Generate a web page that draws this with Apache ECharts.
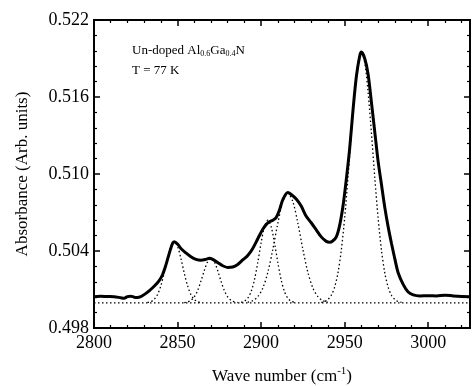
<!DOCTYPE html>
<html>
<head>
<meta charset="utf-8">
<script src="https://cdn.jsdelivr.net/npm/echarts@6/dist/echarts.min.js"></script>
<style>html,body{margin:0;padding:0;background:#fff}#c{width:472px;height:386px}</style>
</head>
<body>
<div id="c"></div>
<script>
// Measured spectrum (thick line)
const specX = [2800,2804,2808,2812,2816,2818,2820,2822,2824,2826,2828,2830,2833,2836,2839,2841,2843,2845,2847,2848,2850,2852,2855,2858,2861,2864,2867,2869,2871,2874,2877,2880,2883,2886,2889,2892,2895,2898,2901,2904,2907,2909,2911,2913,2916,2918,2921,2924,2927,2930,2933,2936,2939,2941,2943,2945,2947,2949,2951,2953,2955,2957,2959,2960,2962,2964,2966,2968,2970,2972,2974,2976,2978,2980,2982,2985,2988,2991,2995,3000,3005,3010,3015,3020,3025];
const specY = [0.50044,0.50047,0.50045,0.50044,0.50036,0.50032,0.50044,0.50048,0.50040,0.50038,0.50045,0.50060,0.50090,0.50125,0.50170,0.50215,0.50290,0.50380,0.50460,0.50473,0.50455,0.50420,0.50385,0.50355,0.50335,0.50328,0.50335,0.50343,0.50335,0.50310,0.50285,0.50272,0.50275,0.50295,0.50330,0.50365,0.50420,0.50495,0.50570,0.50620,0.50640,0.50660,0.50720,0.50800,0.50855,0.50840,0.50805,0.50750,0.50670,0.50620,0.50565,0.50510,0.50475,0.50468,0.50480,0.50510,0.50600,0.50750,0.50960,0.51200,0.51500,0.51760,0.51920,0.51950,0.51900,0.51780,0.51560,0.51330,0.51100,0.50920,0.50740,0.50590,0.50460,0.50340,0.50230,0.50140,0.50080,0.50058,0.50050,0.50052,0.50050,0.50056,0.50050,0.50046,0.50044];

// Fitted component bands (dotted lines)
const fit2848X = [2832,2834,2836,2838,2840,2842,2844,2846,2848,2850,2852,2854,2856,2858,2860,2862,2864];
const fit2848Y = [0.49999,0.50005,0.50023,0.50060,0.50129,0.50228,0.50342,0.50436,0.50473,0.50436,0.50342,0.50228,0.50129,0.50060,0.50023,0.50005,0.49999];
const fit2870X = [2854,2856,2858,2860,2862,2864,2866,2868,2870,2872,2874,2876,2878,2880,2882,2884,2886];
const fit2870Y = [0.49998,0.50003,0.50015,0.50043,0.50092,0.50165,0.50248,0.50316,0.50343,0.50316,0.50248,0.50165,0.50092,0.50043,0.50015,0.50003,0.49998];
const fit2904X = [2888,2890,2892,2894,2896,2898,2900,2902,2904,2906,2908,2910,2912,2914,2916,2918,2920];
const fit2904Y = [0.50000,0.50009,0.50032,0.50083,0.50175,0.50310,0.50464,0.50590,0.50640,0.50590,0.50464,0.50310,0.50175,0.50083,0.50032,0.50009,0.50000];
const fit2916X = [2892,2895,2898,2901,2904,2907,2910,2913,2916,2919,2922,2925,2928,2931,2934,2937,2940];
const fit2916Y = [0.50001,0.50013,0.50044,0.50111,0.50233,0.50412,0.50616,0.50784,0.50850,0.50784,0.50616,0.50412,0.50233,0.50111,0.50044,0.50013,0.50001];
const fit2960X = [2936,2938,2940,2942,2944,2946,2948,2950,2952,2954,2956,2958,2960,2962,2964,2966,2968,2970,2972,2974,2976,2978,2980,2982,2984];
const fit2960Y = [0.50000,0.50006,0.50022,0.50055,0.50119,0.50230,0.50408,0.50658,0.50975,0.51321,0.51639,0.51868,0.51950,0.51868,0.51639,0.51321,0.50975,0.50658,0.50408,0.50230,0.50119,0.50055,0.50022,0.50006,0.50000];
const baselineX = [2800,3025];
const baselineY = [0.49996,0.49996];

// Peak labels
const peakText = ['2848','2870','2904','2916','2960'];
const peakLabelX = [2848.2,2870.8,2900.6,2917.3,2960];
const peakLabelY = [0.50525,0.50395,0.50696,0.50930,0.52029];

// Axis ticks
const xTicks = [2800,2850,2900,2950,3000];
const yTicks = [0.498,0.504,0.510,0.516,0.522];

const pairs = (xs, ys) => xs.map((x,i)=>[x, ys[i]]);
const FONT = '"Liberation Serif","DejaVu Serif",serif';

const chart = echarts.init(document.getElementById('c'), null, {renderer:'canvas'});

const tickStyle = {show:true, inside:true, length:6, lineStyle:{color:'#000', width:1.5}};
const minorStyle = {show:true, splitNumber:5, length:3, lineStyle:{color:'#000', width:1.2}};

const dotted = (xs, ys) => ({
  type:'line', data:pairs(xs,ys), showSymbol:false, smooth:0.3, silent:true,
  lineStyle:{color:'#000', width:1.3, type:[1.5,2.5]}, z:2
});

chart.setOption({
  animation:false,
  backgroundColor:'#fff',
  grid:{left:94, right:2, top:20, bottom:58, outerBoundsMode:'none', containLabel:false,
    show:true, borderColor:'#000', borderWidth:1.8, backgroundColor:'transparent'},
  xAxis:[{
    type:'value', min:xTicks[0], max:3025, interval:50, position:'bottom',
    axisLine:{show:true, lineStyle:{color:'#000', width:1.8}},
    axisTick:tickStyle, minorTick:minorStyle,
    splitLine:{show:false},
    axisLabel:{color:'#000', fontFamily:FONT, fontSize:18, margin:6,
      formatter:v=> xTicks.includes(v) ? String(v) : ''},
    name:'Wave number (cm{sup|-1})', nameLocation:'middle', nameGap:38,
    nameTextStyle:{color:'#000', fontFamily:FONT, fontSize:17,
      rich:{sup:{fontFamily:FONT, fontSize:11, verticalAlign:'top', padding:[0,0,10,0]}}}
  },{
    type:'value', min:xTicks[0], max:3025, interval:50, position:'top',
    axisLine:{show:true, lineStyle:{color:'#000', width:1.8}},
    axisTick:tickStyle, minorTick:minorStyle, splitLine:{show:false}, axisLabel:{show:false}
  }],
  yAxis:[{
    type:'value', min:yTicks[0], max:yTicks[yTicks.length-1], interval:0.006, position:'left',
    axisLine:{show:true, lineStyle:{color:'#000', width:1.8}},
    axisTick:tickStyle, minorTick:minorStyle, splitLine:{show:false},
    axisLabel:{color:'#000', fontFamily:FONT, fontSize:18, margin:5, formatter:v=>v.toFixed(3)},
    name:'Absorbance (Arb. units)', nameLocation:'middle', nameGap:63, nameRotate:90,
    nameTextStyle:{color:'#000', fontFamily:FONT, fontSize:17}
  },{
    type:'value', min:yTicks[0], max:yTicks[yTicks.length-1], interval:0.006, position:'right',
    axisLine:{show:true, lineStyle:{color:'#000', width:1.8}},
    axisTick:tickStyle, minorTick:minorStyle, splitLine:{show:false}, axisLabel:{show:false}
  }],
  series:[
    Object.assign(dotted(baselineX, baselineY), {smooth:false}),
    dotted(fit2848X, fit2848Y),
    dotted(fit2870X, fit2870Y),
    dotted(fit2904X, fit2904Y),
    dotted(fit2916X, fit2916Y),
    dotted(fit2960X, fit2960Y),
    {
      type:'line', data:pairs(specX, specY), showSymbol:false, smooth:0.3, silent:true,
      lineStyle:{color:'#000', width:3}, z:5
    },
    {
      type:'scatter', data:peakLabelX.map((x,i)=>({value:[x, peakLabelY[i]], label:{formatter:peakText[i]}})),
      symbolSize:1, itemStyle:{opacity:0}, silent:true, z:6,
      label:{show:true, position:'inside', color:'#000', fontFamily:FONT, fontSize:14}
    }
  ],
  graphic:[
    {type:'text', left:132, top:44, style:{
      text:'Un-doped Al{s|0.6}Ga{s|0.4}N', fill:'#000', font:'13px ' + FONT,
      rich:{s:{fontFamily:FONT, fontSize:8, verticalAlign:'bottom', padding:[6,0,0,0]}}
    }},
    {type:'text', left:132, top:64, style:{text:'T = 77 K', fill:'#000', font:'13px ' + FONT}}
  ]
});
</script>
</body>
</html>
